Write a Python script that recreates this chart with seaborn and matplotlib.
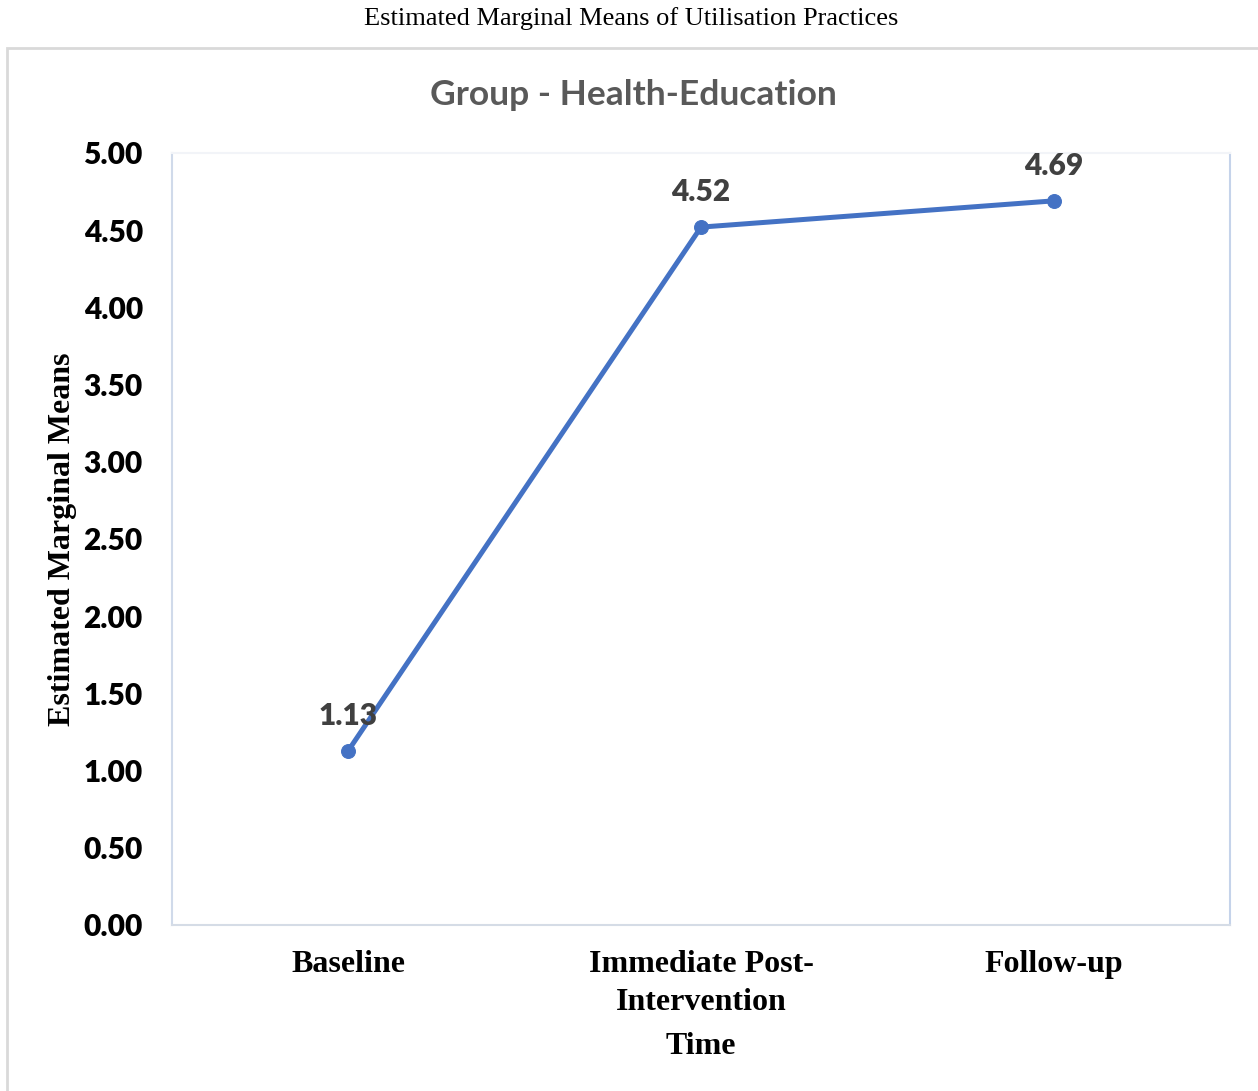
import matplotlib
matplotlib.use("Agg")
import matplotlib.pyplot as plt
import seaborn as sns
import pandas as pd
from matplotlib.patches import Rectangle

# Data
time_points = ["Baseline", "Immediate Post-\nIntervention", "Follow-up"]
marginal_means = [1.13, 4.52, 4.69]
y_ticks = [0.0, 0.5, 1.0, 1.5, 2.0, 2.5, 3.0, 3.5, 4.0, 4.5, 5.0]

df = pd.DataFrame({"Time": time_points, "Mean": marginal_means})

sns.set_theme(style="white")
sans = ["Lato", "DejaVu Sans"]
serif = ["Liberation Serif", "DejaVu Serif"]

fig = plt.figure(figsize=(12.58, 10.91), dpi=100)
fig.patch.set_facecolor("white")

# Chart-area frame
fig.add_artist(Rectangle((7 / 1258, -0.01), 1.02, 1 - 48 / 1091 + 0.01,
                         transform=fig.transFigure, fill=False,
                         edgecolor="#D9D9D9", linewidth=2, zorder=0))

ax = fig.add_axes([172 / 1258, 1 - 925 / 1091, (1230 - 172) / 1258, (925 - 153) / 1091])

line_color = "#4472C4"
sns.lineplot(data=df, x="Time", y="Mean", ax=ax, color=line_color, linewidth=3.6,
             marker="o", markersize=10, markeredgecolor=line_color, sort=False)

ax.set_xlim(-0.5, 2.5)
ax.set_ylim(0, 5)
ax.set_yticks(y_ticks)
ax.set_yticklabels([f"{v:.2f}" for v in y_ticks], fontfamily=sans,
                   fontweight="heavy", fontsize=21.5, color="black")
ax.set_xticks(range(len(time_points)))
ax.set_xticklabels(time_points, fontfamily=serif, fontweight="bold",
                   fontsize=23, color="black", linespacing=1.4)
ax.tick_params(axis="both", length=0)
ax.tick_params(axis="y", pad=21)
ax.tick_params(axis="x", pad=18)

for side, col in {"left": "#D0DAEA", "bottom": "#D5DCE6",
                  "right": "#C5D3EA", "top": "#F2F4F8"}.items():
    ax.spines[side].set_color(col)
    ax.spines[side].set_linewidth(1.5)

# Value labels
for i, v in enumerate(marginal_means):
    ax.annotate(f"{v:.2f}", (i, v), xytext=(0, 25), textcoords="offset points",
                ha="center", va="center", fontfamily=sans, fontweight="heavy",
                fontsize=21.5, color="#404040")

ax.set_xlabel("Time", fontfamily=serif, fontweight="bold", fontsize=23,
              color="black", labelpad=11)
ax.set_ylabel("Estimated Marginal Means", fontfamily=serif, fontweight="bold",
              fontsize=23, color="black", labelpad=5)

fig.text(633 / 1258, 1 - 95 / 1091, "Group - Health-Education", ha="center",
         va="center", fontfamily=sans, fontweight="bold", fontsize=25.5,
         color="#595959")
fig.text(631 / 1258, 1 - 19 / 1091, "Estimated Marginal Means of Utilisation Practices",
         ha="center", va="center", fontfamily=serif, fontsize=19, color="black")

fig.savefig("out.png", dpi=100, facecolor="white")
